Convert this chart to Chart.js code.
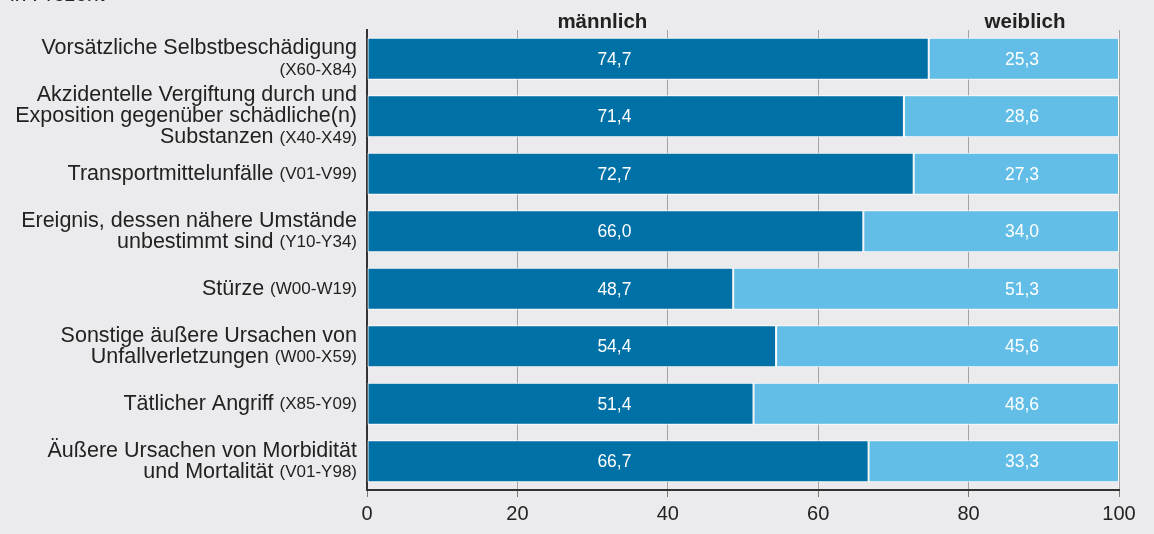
<!DOCTYPE html>
<html lang="de">
<head>
<meta charset="utf-8">
<title>Verletzungen nach Geschlecht</title>
<script src="https://cdn.jsdelivr.net/npm/chart.js@4/dist/chart.umd.min.js"></script>
<style>
  html, body { margin: 0; padding: 0; background: #ebebed; }
  #wrap { position: relative; width: 1154px; height: 534px; }
</style>
</head>
<body>
<div id="wrap"><canvas id="chart"></canvas></div>
<script>
// Kategorien: Zeilen der Beschriftung, der ICD-Code steht am Ende der letzten Zeile
const labelLines = [
    ['Vorsätzliche Selbstbeschädigung', ''],
    ['Akzidentelle Vergiftung durch und', 'Exposition gegenüber schädliche(n)', 'Substanzen'],
    ['Transportmittelunfälle'],
    ['Ereignis, dessen nähere Umstände', 'unbestimmt sind'],
    ['Stürze'],
    ['Sonstige äußere Ursachen von', 'Unfallverletzungen'],
    ['Tätlicher Angriff'],
    ['Äußere Ursachen von Morbidität', 'und Mortalität']
];
const codes = ['(X60-X84)', '(X40-X49)', '(V01-V99)', '(Y10-Y34)', '(W00-W19)', '(W00-X59)', '(X85-Y09)', '(V01-Y98)'];

const maennlich = [74.7, 71.4, 72.7, 66.0, 48.7, 54.4, 51.4, 66.7];
const weiblich  = [25.3, 28.6, 27.3, 34.0, 51.3, 45.6, 48.6, 33.3];

const seriesNames = ['männlich', 'weiblich'];
const xTicks = [0, 20, 40, 60, 80, 100];

// Lage der Spaltenköpfe und der Werte (in Achseneinheiten)
const headerAt = [31.3, 87.5];
const valueAt = [32.9, 87.1];

const FONT = '"Liberation Sans", Arial, Helvetica, sans-serif';
const colors = {
    male: '#0071a7',
    female: '#63bee7',
    text: '#222222',
    grid: '#a3a3a6',
    axis: '#333333'
};

const fmt = v => v.toFixed(1).replace('.', ',');

// Beschriftung der y-Achse mit kleinerem Code
const yLabelPlugin = {
    id: 'yLabels',
    afterDraw(chart) {
        const ctx = chart.ctx;
        const yScale = chart.scales.y;
        const right = yScale.right - 10;
        const lh = 21;
        ctx.save();
        ctx.fillStyle = colors.text;
        ctx.textBaseline = 'middle';
        ctx.textAlign = 'right';
        labelLines.forEach((lines, i) => {
            const yc = yScale.getPixelForTick(i);
            const y0 = yc - (lines.length - 1) * lh / 2;
            lines.forEach((line, j) => {
                const y = y0 + j * lh;
                let x = right;
                if (j === lines.length - 1) {
                    ctx.font = '17px ' + FONT;
                    ctx.fillText(codes[i], x, y + 1);
                    x -= ctx.measureText(codes[i]).width;
                    ctx.font = '21.5px ' + FONT;
                    x -= ctx.measureText(' ').width;
                }
                ctx.font = '21.5px ' + FONT;
                if (line) ctx.fillText(line, x, y);
            });
        });
        ctx.restore();
    }
};

// Werte in den Balken, Spaltenköpfe, Einheit
const valuePlugin = {
    id: 'values',
    afterDatasetsDraw(chart) {
        const ctx = chart.ctx;
        const xScale = chart.scales.x;
        ctx.save();
        ctx.fillStyle = '#ffffff';
        ctx.font = '17.5px ' + FONT;
        ctx.textAlign = 'center';
        ctx.textBaseline = 'middle';
        chart.data.datasets.forEach((ds, di) => {
            const meta = chart.getDatasetMeta(di);
            const x = xScale.getPixelForValue(valueAt[di]);
            meta.data.forEach((bar, i) => {
                ctx.fillText(fmt(ds.data[i]), x, bar.y + 1);
            });
        });

        ctx.fillStyle = colors.text;
        ctx.font = 'bold 20.5px ' + FONT;
        ctx.textBaseline = 'alphabetic';
        seriesNames.forEach((name, i) => {
            ctx.fillText(name, xScale.getPixelForValue(headerAt[i]), chart.chartArea.top - 2);
        });

        // nur der untere Rand der Einheit ist im Ausschnitt sichtbar
        ctx.font = '21px ' + FONT;
        ctx.textAlign = 'left';
        ctx.fillText('in Prozent', 10, 0.5);
        ctx.restore();
    }
};

new Chart(document.getElementById('chart'), {
    type: 'bar',
    data: {
        labels: codes,
        datasets: [{
            label: seriesNames[0],
            data: maennlich,
            backgroundColor: colors.male,
            borderColor: '#ffffff',
            borderWidth: 1,
            borderSkipped: false,
            barPercentage: 0.73,
            categoryPercentage: 1
        }, {
            label: seriesNames[1],
            data: weiblich,
            backgroundColor: colors.female,
            borderColor: '#ffffff',
            borderWidth: 1,
            borderSkipped: false,
            barPercentage: 0.73,
            categoryPercentage: 1
        }]
    },
    options: {
        indexAxis: 'y',
        responsive: true,
        maintainAspectRatio: false,
        animation: false,
        layout: { padding: { top: 30, right: 35, bottom: 0, left: 0 } },
        plugins: {
            legend: { display: false },
            tooltip: { enabled: false }
        },
        scales: {
            x: {
                stacked: true,
                min: 0,
                max: 100,
                afterBuildTicks: scale => { scale.ticks = xTicks.map(v => ({ value: v })); },
                afterFit: scale => { scale.height = 44; },
                grid: { color: colors.grid, lineWidth: 1, tickLength: 7, tickColor: '#777777' },
                border: { display: true, color: colors.axis, width: 2 },
                ticks: {
                    color: colors.text,
                    font: { family: FONT, size: 20 },
                    padding: 5
                }
            },
            y: {
                stacked: true,
                z: 1,
                afterFit: scale => { scale.width = 367; },
                grid: { display: false },
                border: { display: true, color: colors.axis, width: 2 },
                ticks: { display: false }
            }
        }
    },
    plugins: [yLabelPlugin, valuePlugin]
});
</script>
</body>
</html>
